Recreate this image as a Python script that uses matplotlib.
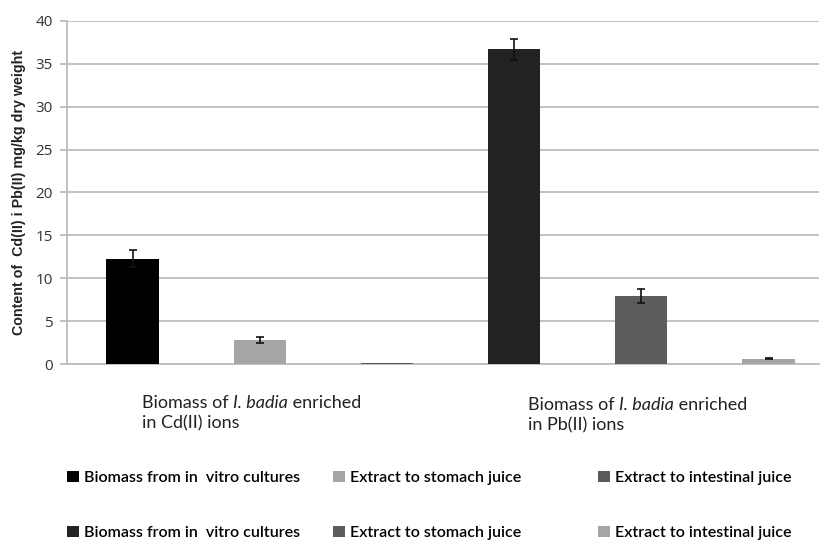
import numpy as np
import matplotlib
matplotlib.use('Agg')
import matplotlib.pyplot as plt

# ---- Datos ----
groups = ['Cd', 'Pb']
series = ['Biomass from in  vitro cultures', 'Extract to stomach juice',
          'Extract to intestinal juice']
cd_values = [12.3, 2.8, 0.1]
cd_errors = [1.0, 0.4, 0.0]
pb_values = [36.7, 7.9, 0.6]
pb_errors = [1.2, 0.8, 0.05]
cd_colors = ['#000000', '#a6a6a6', '#595959']
pb_colors = ['#222222', '#5c5c5c', '#a6a6a6']
yticks = [0, 5, 10, 15, 20, 25, 30, 35, 40]

W, H = 821, 542
fig = plt.figure(figsize=(W/100, H/100), dpi=100)
ax = fig.add_axes([67/W, 1-364/H, (819-67)/W, (364-21)/H])

grid_c = '#bdbdbd'
width = 0.41
handles = []
for g, (vals, errs, cols) in enumerate([(cd_values, cd_errors, cd_colors),
                                        (pb_values, pb_errors, pb_colors)]):
    for i, (v, e, c) in enumerate(zip(vals, errs, cols)):
        pos = g*len(series) + i
        b = ax.bar(pos, v, width, color=c, zorder=3, label=series[i])
        if e > 0:
            ax.errorbar(pos, v, yerr=e, fmt='none', ecolor='#111111',
                        elinewidth=1.2, capsize=3, capthick=1.2, zorder=4)
        handles.append(b)

ax.set_xlim(-0.515, 5.397)
ax.set_ylim(0, 40)
ax.set_yticks(yticks)
ax.set_xticks([])
ax.yaxis.grid(True, color=grid_c, linewidth=1.3, zorder=0)
for s in ['top', 'right']:
    ax.spines[s].set_visible(False)
for s in ['left', 'bottom']:
    ax.spines[s].set_color(grid_c)
    ax.spines[s].set_linewidth(1.3)
ax.tick_params(axis='y', length=5, width=1.3, color=grid_c, labelsize=11,
               labelcolor='#333333', pad=5)
for lab in ax.get_yticklabels():
    lab.set_family('Open Sans')

fig.text(19/W, 1-192/H, 'Content of  Cd(II) i Pb(II) mg/kg dry weight',
         rotation=90, ha='center', va='center', fontsize=10.3,
         fontweight='bold', family='Liberation Sans', color='#222222')

# ---- Etiquetas de categoría (con cursiva) ----
lab_font = ['Lato', 'DejaVu Sans']
lab_fs = 13
for (x, y), ion in [((142, 403), 'Cd(II)'), ((528, 405), 'Pb(II)')]:
    t1 = fig.text(x/W, 1-y/H, 'Biomass of ', ha='left', va='center',
                  fontsize=lab_fs, family=lab_font, color='#222222')
    t2 = ax.annotate('I. badia', xy=(1, 0), xycoords=t1, ha='left', va='bottom',
                     fontsize=lab_fs, family=lab_font, style='italic', color='#222222',
                     annotation_clip=False)
    ax.annotate(' enriched', xy=(1, 0), xycoords=t2, ha='left', va='bottom',
                fontsize=lab_fs, family=lab_font, color='#222222',
                annotation_clip=False)
    fig.text(x/W, 1-(y+20)/H, 'in ' + ion + ' ions', ha='left', va='center',
             fontsize=lab_fs, family=lab_font, color='#222222')

# ---- Leyenda: dos filas de tres entradas ----
col_x = [67, 333, 598]
row_y = [478, 533]
for r in range(2):
    for c in range(3):
        h = handles[r*3 + c]
        fig.legend(handles=[h], labels=[series[c]], loc='center left',
                   bbox_to_anchor=(col_x[c]/W, 1-row_y[r]/H), frameon=False,
                   borderpad=0, borderaxespad=0, handlelength=0.75,
                   handleheight=0.75, handletextpad=0.3,
                   prop={'family': lab_font, 'size': 11.5, 'weight': 'semibold'})

fig.savefig('out.png', dpi=100)
